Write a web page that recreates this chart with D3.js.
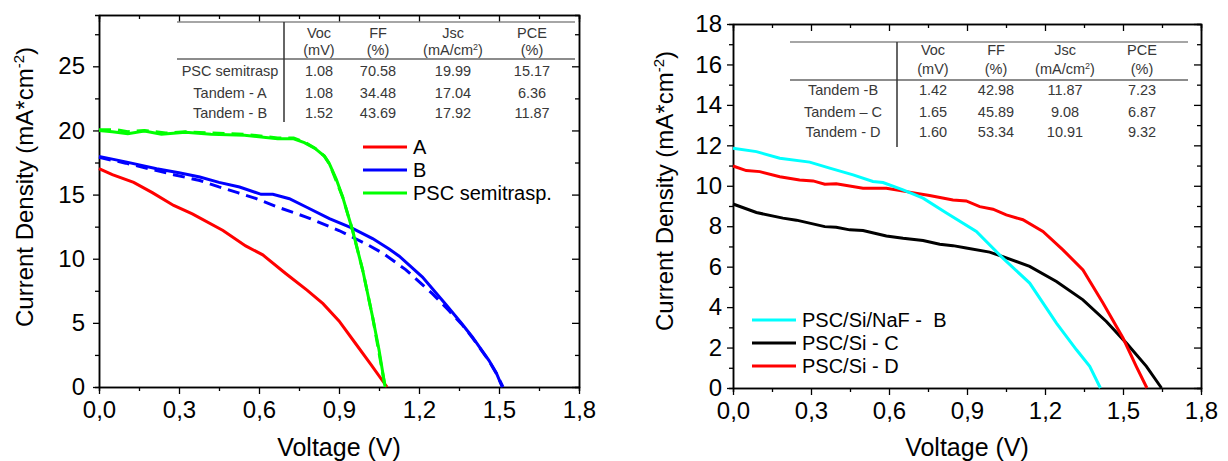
<!DOCTYPE html>
<html>
<head>
<meta charset="utf-8">
<script src="https://cdn.jsdelivr.net/npm/d3@7"></script>
<style>
  body { margin: 0; background: #fff; }
  svg { display: block; font-family: "Liberation Sans", Arial, sans-serif; }
  .tbl { font-family: "Liberation Sans Narrow", "Liberation Sans", sans-serif; font-size: 14.5px; fill: #383838; }
</style>
</head>
<body>
<svg width="1228" height="461"></svg>
<script>
// left plot data: [voltage V, current density mA/cm2]
const curveA = [[0,17.02],[0.05,16.55],[0.13,15.95],[0.2,15.15],[0.28,14.15],[0.35,13.5],[0.465,12.2],[0.55,11.0],[0.614,10.3],[0.7,8.85],[0.78,7.55],[0.84,6.5],[0.9,5.15],[0.96,3.45],[1.02,1.75],[1.08,0]];
const curveB = [[0,17.98],[0.1,17.55],[0.216,17.02],[0.3,16.7],[0.378,16.37],[0.45,15.95],[0.527,15.59],[0.608,15.02],[0.652,15.02],[0.714,14.68],[0.777,14.03],[0.864,13.12],[0.945,12.42],[1.026,11.57],[1.088,10.75],[1.126,10.2],[1.213,8.57],[1.3,6.45],[1.36,4.95],[1.4,3.9],[1.462,2.08],[1.49,1.1],[1.512,0]];
const curveBdash = [[0,17.9],[0.1,17.45],[0.2,16.95],[0.28,16.55],[0.378,16.1],[0.45,15.6],[0.52,15.15],[0.59,14.68],[0.68,13.95],[0.777,13.25],[0.9,12.2],[1.0,11.17],[1.063,10.45],[1.15,9.15],[1.25,7.28],[1.31,6.0],[1.36,4.9],[1.4,3.85],[1.462,2.05],[1.49,1.05],[1.515,0]];
const curvePSC = [[0,20.0],[0.05,19.9],[0.108,19.75],[0.17,19.95],[0.234,19.7],[0.324,19.85],[0.42,19.7],[0.546,19.62],[0.67,19.35],[0.73,19.35],[0.77,19.05],[0.81,18.6],[0.845,18.0],[0.864,17.4],[0.89,16.2],[0.914,14.8],[0.951,12.2],[0.989,9.1],[1.026,5.46],[1.05,2.9],[1.073,0]];
const curvePSCdash = [[0,20.05],[0.07,20.05],[0.108,19.9],[0.17,20.0],[0.25,19.8],[0.324,19.9],[0.42,19.8],[0.546,19.7],[0.67,19.42],[0.73,19.42],[0.77,19.1],[0.81,18.62],[0.845,18.0],[0.864,17.4],[0.914,14.8],[0.951,12.2],[0.989,9.1],[1.026,5.46],[1.073,0]];

// right plot data
const curveNaFB = [[0,11.86],[0.09,11.69],[0.18,11.36],[0.295,11.17],[0.372,10.87],[0.462,10.54],[0.538,10.21],[0.577,10.16],[0.654,9.8],[0.731,9.39],[0.821,8.65],[0.936,7.74],[1.038,6.42],[1.141,5.19],[1.244,3.21],[1.321,1.89],[1.372,1.07],[1.413,0]];
const curveSiC = [[0,9.1],[0.09,8.68],[0.192,8.4],[0.244,8.3],[0.353,7.98],[0.397,7.95],[0.449,7.82],[0.5,7.79],[0.59,7.52],[0.654,7.4],[0.731,7.29],[0.795,7.11],[0.846,7.04],[0.897,6.92],[0.987,6.72],[1.038,6.5],[1.141,6.01],[1.244,5.27],[1.346,4.36],[1.436,3.29],[1.513,2.22],[1.59,1.07],[1.648,0]];
const curveSiD = [[0,10.98],[0.051,10.75],[0.103,10.7],[0.18,10.45],[0.256,10.29],[0.308,10.24],[0.353,10.08],[0.397,10.1],[0.5,9.88],[0.59,9.88],[0.667,9.71],[0.756,9.52],[0.846,9.3],[0.897,9.25],[0.949,8.97],[1.0,8.84],[1.051,8.56],[1.115,8.32],[1.192,7.74],[1.269,6.83],[1.346,5.84],[1.423,4.2],[1.5,2.47],[1.551,1.07],[1.592,0]];

// ticks
const xTicks = [0, 0.3, 0.6, 0.9, 1.2, 1.5, 1.8];
const xMinor = [0.15, 0.45, 0.75, 1.05, 1.35, 1.65];
const yTicksL = [0, 5, 10, 15, 20, 25];
const yMinorL = [2.5, 7.5, 12.5, 17.5, 22.5, 27.5];
const yTicksR = [0, 2, 4, 6, 8, 10, 12, 14, 16, 18];
const yMinorR = [1, 3, 5, 7, 9, 11, 13, 15, 17];

// tables
const tblHead = [["Voc", "(mV)"], ["FF", "(%)"], ["Jsc", "(mA/cm"], ["PCE", "(%)"]];
const tblRowsL = ["PSC semitrasp", "Tandem - A", "Tandem - B"];
const tblValsL = [["1.08","70.58","19.99","15.17"], ["1.08","34.48","17.04","6.36"], ["1.52","43.69","17.92","11.87"]];
const tblRowsR = ["Tandem -B", "Tandem \u2013 C", "Tandem - D"];
const tblValsR = [["1.42","42.98","11.87","7.23"], ["1.65","45.89","9.08","6.87"], ["1.60","53.34","10.91","9.32"]];

const svg = d3.select("svg");
const fmt = d => d3.format(".1f")(d).replace(".", ",");

function panel(box, yMax, yTicks, yMinor, yLabelGap, titleX) {
  const g = svg.append("g");
  const x = d3.scaleLinear().domain([0, 1.8]).range([box.l, box.r]);
  const y = d3.scaleLinear().domain([0, yMax]).range([box.b, box.t]);

  // bottom
  g.append("g").attr("transform", `translate(0,${box.b})`)
    .call(d3.axisBottom(x).tickValues(xMinor).tickSize(4).tickFormat(""));
  g.append("g").attr("transform", `translate(0,${box.b})`)
    .call(d3.axisBottom(x).tickValues(xTicks).tickSize(7).tickSizeOuter(0).tickPadding(7).tickFormat(fmt))
    .call(a => a.selectAll("text").attr("font-size", 24).attr("font-family", "Liberation Sans, Arial"));
  // top (inward)
  g.append("g").attr("transform", `translate(0,${box.t})`)
    .call(d3.axisBottom(x).tickValues(xMinor).tickSize(4).tickFormat(""));
  g.append("g").attr("transform", `translate(0,${box.t})`)
    .call(d3.axisBottom(x).tickValues(xTicks).tickSize(7).tickSizeOuter(0).tickFormat(""));
  // left
  g.append("g").attr("transform", `translate(${box.l},0)`)
    .call(d3.axisLeft(y).tickValues(yMinor).tickSize(4).tickFormat(""));
  g.append("g").attr("transform", `translate(${box.l},0)`)
    .call(d3.axisLeft(y).tickValues(yTicks).tickSize(6).tickSizeOuter(0).tickPadding(yLabelGap).tickFormat(d3.format("d")))
    .call(a => a.selectAll("text").attr("font-size", 24).attr("font-family", "Liberation Sans, Arial"));
  // right (inward)
  g.append("g").attr("transform", `translate(${box.r},0)`)
    .call(d3.axisLeft(y).tickValues(yMinor).tickSize(4).tickFormat(""));
  g.append("g").attr("transform", `translate(${box.r},0)`)
    .call(d3.axisLeft(y).tickValues(yTicks).tickSize(7).tickSizeOuter(0).tickFormat(""));

  g.selectAll(".domain").attr("stroke", "#000").attr("stroke-width", 1.5);
  g.selectAll(".tick line").attr("stroke", "#000").attr("stroke-width", 1.3);
  g.selectAll(".tick text").attr("fill", "#000");

  g.append("text").attr("x", (box.l + box.r) / 2).attr("y", 456)
    .attr("text-anchor", "middle").attr("font-size", 25).text("Voltage (V)");
  const yt = g.append("text").attr("transform", `translate(${titleX},${box.ty}) rotate(-90)`)
    .attr("text-anchor", "middle").attr("font-size", 24);
  yt.append("tspan").text("Current Density (mA*cm");
  yt.append("tspan").attr("font-size", 15).attr("dy", -9).text("-2");
  yt.append("tspan").attr("dy", 9).text(")");
  return {g, x, y};
}

function drawCurve(p, data, color, dash) {
  p.g.append("path").datum(data)
    .attr("fill", "none").attr("stroke", color).attr("stroke-width", 3)
    .attr("stroke-dasharray", dash || null)
    .attr("d", d3.line().x(d => p.x(d[0])).y(d => p.y(d[1])));
}

function legend(items, lx, ly) {
  items.forEach((it, i) => {
    const yy = ly + i * 23;
    svg.append("line").attr("x1", lx).attr("x2", lx + 44).attr("y1", yy).attr("y2", yy)
      .attr("stroke", it.c).attr("stroke-width", 3);
    svg.append("text").attr("x", lx + 50).attr("y", yy + 7).attr("font-size", 20)
      .style("white-space", "pre").text(it.t);
  });
}

function table(t, rows, vals) {
  const g = svg.append("g").attr("class", "tbl");
  g.append("line").attr("x1", t.x0).attr("x2", t.x1).attr("y1", t.top).attr("y2", t.top).attr("stroke", "#888").attr("stroke-width", 1.5);
  g.append("line").attr("x1", t.x0).attr("x2", t.x1).attr("y1", t.hl).attr("y2", t.hl).attr("stroke", "#666").attr("stroke-width", 1.5);
  g.append("line").attr("x1", t.vx).attr("x2", t.vx).attr("y1", t.top).attr("y2", t.bot).attr("stroke", "#333").attr("stroke-width", 1.5);
  tblHead.forEach((h, j) => {
    g.append("text").attr("x", t.cols[j]).attr("y", t.h1).attr("text-anchor", "middle").text(h[0]);
    const s = g.append("text").attr("x", t.cols[j]).attr("y", t.h2).attr("text-anchor", "middle");
    s.append("tspan").text(h[1]);
    if (j === 2) {
      s.append("tspan").attr("font-size", 9).attr("dy", -5).text("2");
      s.append("tspan").attr("dy", 5).text(")");
    }
  });
  rows.forEach((r, i) => {
    g.append("text").attr("x", t.lab).attr("y", t.rows[i]).attr("text-anchor", "middle").text(r);
    vals[i].forEach((v, j) => {
      g.append("text").attr("x", t.cols[j]).attr("y", t.rows[i]).attr("text-anchor", "middle").text(v);
    });
  });
}

// left panel
const pL = panel({l: 99, r: 579, t: 15, b: 387, ty: 187}, 29, yTicksL, yMinorL, 8, 33);
drawCurve(pL, curveBdash, "#0000ff", "12,7");
drawCurve(pL, curveB, "#0000ff");
drawCurve(pL, curveA, "#ff0000");
drawCurve(pL, curvePSCdash, "#00ff00", "12,7");
drawCurve(pL, curvePSC, "#00ff00");
legend([{t: "A", c: "#ff0000"}, {t: "B", c: "#0000ff"}, {t: "PSC semitrasp.", c: "#00ff00"}], 363, 147);
table({x0: 177, x1: 575, top: 22, hl: 59, vx: 284, bot: 122, h1: 38, h2: 55,
       cols: [319, 378, 453, 532], lab: 230, rows: [75.5, 98, 118]}, tblRowsL, tblValsL);

// right panel
const pR = panel({l: 733, r: 1201, t: 24, b: 388, ty: 191}, 18, yTicksR, yMinorR, 5, 673);
drawCurve(pR, curveSiC, "#000000");
drawCurve(pR, curveSiD, "#ff0000");
drawCurve(pR, curveNaFB, "#00ffff");
legend([{t: "PSC/Si/NaF -  B", c: "#00ffff"}, {t: "PSC/Si - C", c: "#000000"}, {t: "PSC/Si - D", c: "#ff0000"}], 752, 320);
table({x0: 790, x1: 1188, top: 42, hl: 80, vx: 897, bot: 147, h1: 55, h2: 74,
       cols: [933, 996, 1065, 1142], lab: 843, rows: [95, 117, 137]}, tblRowsR, tblValsR);
</script>
</body>
</html>
